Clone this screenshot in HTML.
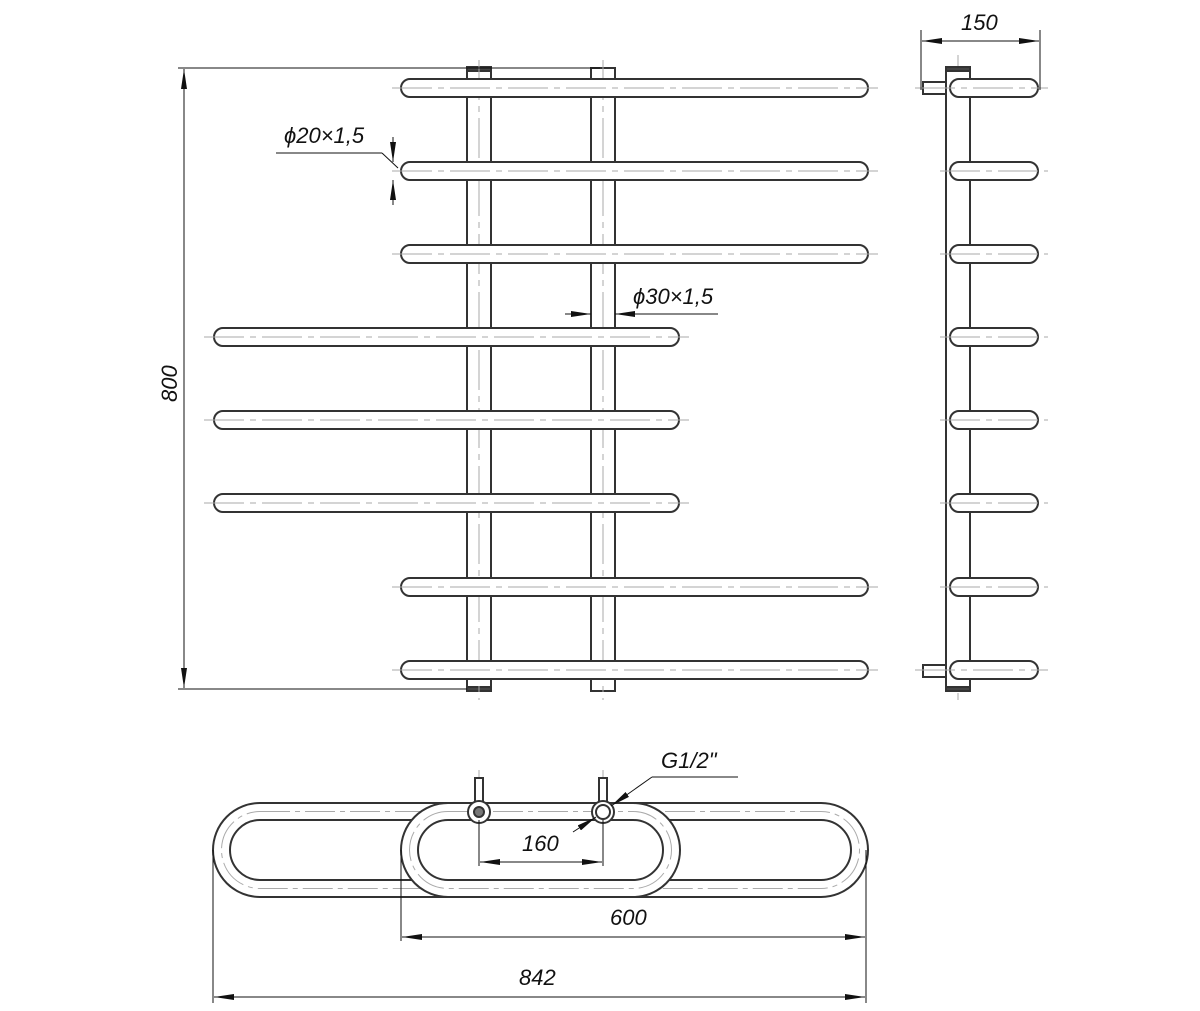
<!DOCTYPE html>
<html><head><meta charset="utf-8"><style>body{margin:0;background:#fff}svg{display:block}text{font-family:"Liberation Sans",sans-serif;font-style:italic;font-size:22px;fill:#111}</style></head><body>
<svg width="1200" height="1011" viewBox="0 0 1200 1011">
<defs>
<marker id="a" viewBox="0 0 20 6" refX="20" refY="3" markerWidth="20" markerHeight="6" orient="auto" markerUnits="userSpaceOnUse"><path d="M0,0 L20,3 L0,6z" fill="#111"/></marker>
</defs>
<g stroke="#333" stroke-width="2" fill="#fff">
<rect x="467" y="68" width="24" height="623"/>
<rect x="591" y="68" width="24" height="623"/>
<rect x="467" y="67" width="24" height="4" fill="#444"/>
<rect x="467" y="687" width="24" height="4" fill="#444"/>
</g>
<g stroke="#aaa" stroke-width="1" stroke-dasharray="40,6,6,6">
<line x1="479" y1="60" x2="479" y2="700"/><line x1="603" y1="60" x2="603" y2="700"/>
<line x1="958" y1="55" x2="958" y2="700"/>
</g>
<g stroke="#333" stroke-width="2" fill="#fff">
<rect x="401" y="79" width="467" height="18" rx="9"/>
<rect x="401" y="162" width="467" height="18" rx="9"/>
<rect x="401" y="245" width="467" height="18" rx="9"/>
<rect x="214" y="328" width="465" height="18" rx="9"/>
<rect x="214" y="411" width="465" height="18" rx="9"/>
<rect x="214" y="494" width="465" height="18" rx="9"/>
<rect x="401" y="578" width="467" height="18" rx="9"/>
<rect x="401" y="661" width="467" height="18" rx="9"/>
<rect x="946" y="68" width="24" height="623"/>
<rect x="946" y="67" width="24" height="4" fill="#444"/>
<rect x="946" y="687" width="24" height="4" fill="#444"/>
<rect x="923" y="82" width="23" height="12"/>
<rect x="923" y="665" width="23" height="12"/>
<rect x="950" y="79" width="88" height="18" rx="9"/>
<rect x="950" y="162" width="88" height="18" rx="9"/>
<rect x="950" y="245" width="88" height="18" rx="9"/>
<rect x="950" y="328" width="88" height="18" rx="9"/>
<rect x="950" y="411" width="88" height="18" rx="9"/>
<rect x="950" y="494" width="88" height="18" rx="9"/>
<rect x="950" y="578" width="88" height="18" rx="9"/>
<rect x="950" y="661" width="88" height="18" rx="9"/>
</g>
<g stroke="#aaa" stroke-width="1" stroke-dasharray="40,6,6,6">
<line x1="392" y1="88" x2="878" y2="88"/><line x1="392" y1="171" x2="878" y2="171"/><line x1="392" y1="254" x2="878" y2="254"/>
<line x1="204" y1="337" x2="689" y2="337"/><line x1="204" y1="420" x2="689" y2="420"/><line x1="204" y1="503" x2="689" y2="503"/>
<line x1="392" y1="587" x2="878" y2="587"/><line x1="392" y1="670" x2="878" y2="670"/>
<line x1="915" y1="88" x2="1048" y2="88"/><line x1="940" y1="171" x2="1048" y2="171"/><line x1="940" y1="254" x2="1048" y2="254"/><line x1="940" y1="337" x2="1048" y2="337"/><line x1="940" y1="420" x2="1048" y2="420"/><line x1="940" y1="503" x2="1048" y2="503"/><line x1="940" y1="587" x2="1048" y2="587"/><line x1="915" y1="670" x2="1048" y2="670"/>
</g>
<g stroke="#111" stroke-width="1" fill="none">
<line x1="178" y1="68" x2="600" y2="68"/><line x1="178" y1="689" x2="467" y2="689"/>
<line x1="184" y1="130" x2="184" y2="69" marker-end="url(#a)"/><line x1="184" y1="620" x2="184" y2="688" marker-end="url(#a)"/>
<line x1="184" y1="130" x2="184" y2="620"/>
<line x1="276" y1="153" x2="382" y2="153"/><line x1="382" y1="153" x2="398" y2="168"/>
<line x1="393" y1="137" x2="393" y2="162" marker-end="url(#a)"/><line x1="393" y1="205" x2="393" y2="180" marker-end="url(#a)"/>
<line x1="565" y1="314" x2="591" y2="314" marker-end="url(#a)"/><line x1="718" y1="314" x2="615" y2="314" marker-end="url(#a)"/>
<line x1="921" y1="30" x2="921" y2="90"/><line x1="1040" y1="30" x2="1040" y2="90"/>
<line x1="980" y1="41" x2="922" y2="41" marker-end="url(#a)"/><line x1="980" y1="41" x2="1039" y2="41" marker-end="url(#a)"/>
</g>
<text x="284" y="143">ϕ20×1,5</text>
<text x="633" y="304">ϕ30×1,5</text>
<text x="961" y="30">150</text>
<text transform="translate(177,402) rotate(-90)">800</text>
<!-- top view: back long oval -->
<path d="M260,803 H821 A47,47 0 0 1 821,897 H260 A47,47 0 0 1 260,803Z M260,820 H821 A30,30 0 0 1 821,880 H260 A30,30 0 0 1 260,820Z" fill="#fff" fill-rule="evenodd" stroke="#333" stroke-width="2"/>
<rect x="221.5" y="811.5" width="638" height="77" rx="38.5" fill="none" stroke="#aaa" stroke-width="1" stroke-dasharray="30,5,5,5"/>
<!-- front short oval -->
<path d="M448,803 H633 A47,47 0 0 1 633,897 H448 A47,47 0 0 1 448,803Z M448,820 H633 A30,30 0 0 1 633,880 H448 A30,30 0 0 1 448,820Z" fill="#fff" fill-rule="evenodd" stroke="#333" stroke-width="2"/>
<rect x="409.5" y="811.5" width="262" height="77" rx="38.5" fill="none" stroke="#aaa" stroke-width="1" stroke-dasharray="30,5,5,5"/>
<g stroke="#aaa" stroke-width="1" fill="none" stroke-dasharray="30,5,5,5">
<line x1="479" y1="770" x2="479" y2="830"/><line x1="603" y1="770" x2="603" y2="830"/>
</g>
<g stroke="#333" stroke-width="2" fill="#fff">
<rect x="475" y="778" width="8" height="24"/><rect x="599" y="778" width="8" height="24"/>
<circle cx="479" cy="812" r="11"/><circle cx="479" cy="812" r="5" fill="#777"/>
<circle cx="603" cy="812" r="11"/><circle cx="603" cy="812" r="7"/>
</g>
<g stroke="#111" stroke-width="1" fill="none">
<line x1="479" y1="820" x2="479" y2="866"/><line x1="603" y1="820" x2="603" y2="866"/>
<line x1="541" y1="862" x2="480" y2="862" marker-end="url(#a)"/><line x1="541" y1="862" x2="602" y2="862" marker-end="url(#a)"/>
<line x1="401" y1="850" x2="401" y2="941"/><line x1="866" y1="850" x2="866" y2="1003"/><line x1="213" y1="850" x2="213" y2="1003"/>
<line x1="630" y1="937" x2="402" y2="937" marker-end="url(#a)"/><line x1="630" y1="937" x2="865" y2="937" marker-end="url(#a)"/>
<line x1="540" y1="997" x2="214" y2="997" marker-end="url(#a)"/><line x1="540" y1="997" x2="865" y2="997" marker-end="url(#a)"/>
<line x1="738" y1="777" x2="652" y2="777"/><line x1="652" y1="777" x2="611" y2="806" marker-end="url(#a)"/>
<line x1="573" y1="832" x2="596" y2="817" marker-end="url(#a)"/>
</g>
<text x="522" y="851">160</text>
<text x="610" y="925">600</text>
<text x="519" y="985">842</text>
<text x="661" y="768">G1/2"</text>
</svg>
</body></html>
